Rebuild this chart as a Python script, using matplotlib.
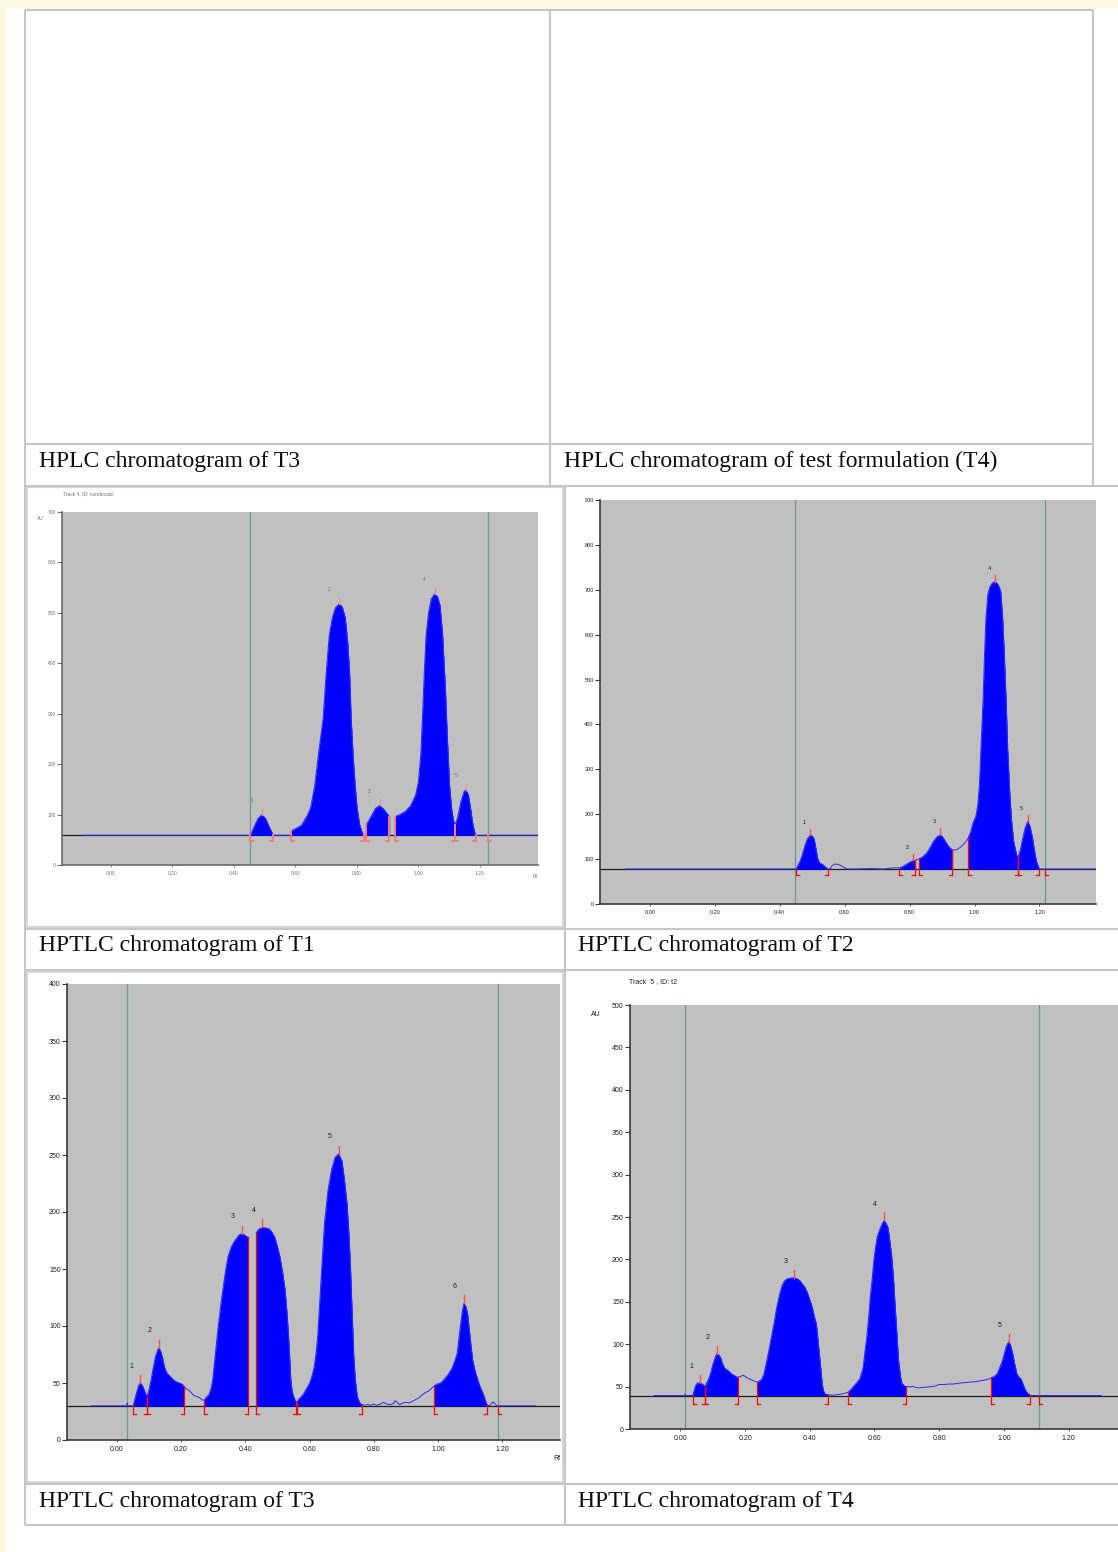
import numpy as np
import matplotlib
matplotlib.use("Agg")
import matplotlib.pyplot as plt
from matplotlib.patches import Rectangle
from matplotlib.ticker import FormatStrFormatter

W, H = 1118, 1552
nan = float("nan")

CAPTIONS = [
    ("HPLC chromatogram of T3", 39, 444),
    ("HPLC chromatogram of test formulation (T4)", 564, 444),
    ("HPTLC chromatogram of T1", 39, 929),
    ("HPTLC chromatogram of T2", 578, 929),
    ("HPTLC chromatogram of T3", 39, 1484),
    ("HPTLC chromatogram of T4", 578, 1484),
]

RF_TICKS = [0.0, 0.2, 0.4, 0.6, 0.8, 1.0, 1.2]

# densitometric scans, (Rf, AU)
T1_TRACE = [(-0.09, 59), (0.454, 59), (0.465, 75), (0.478, 92), (0.491, 100), (0.503, 92),
            (0.515, 75), (0.528, 59), (0.585, 59), (0.587, 68), (0.600, 72), (0.620, 79),
            (0.640, 100), (0.650, 115), (0.663, 158), (0.675, 220), (0.690, 290), (0.700, 380),
            (0.710, 455), (0.720, 490), (0.730, 510), (0.742, 518), (0.752, 512), (0.762, 490),
            (0.770, 440), (0.776, 380), (0.781, 290), (0.788, 210), (0.794, 158), (0.800, 115),
            (0.809, 79), (0.818, 63), (0.824, 59), (0.829, 59), (0.831, 80), (0.845, 95),
            (0.860, 112), (0.874, 118), (0.888, 110), (0.900, 100), (0.906, 96), (0.915, nan),
            (0.924, 96), (0.940, 100), (0.957, 106), (0.975, 118), (0.991, 139), (1.000, 165),
            (1.008, 220), (1.013, 290), (1.019, 380), (1.025, 455), (1.033, 500), (1.042, 528),
            (1.053, 538), (1.062, 532), (1.070, 515), (1.078, 460), (1.087, 356), (1.094, 250),
            (1.101, 158), (1.108, 110), (1.114, 88), (1.120, 79), (1.128, 95), (1.138, 125),
            (1.148, 145), (1.154, 149), (1.162, 140), (1.170, 110), (1.177, 80), (1.183, 65),
            (1.187, 59), (1.389, 59)]
T1_BASE = 59
T1_ZONES = [(0.454, 0.528), (0.587, 0.824), (0.831, 0.906), (0.924, 1.120), (1.120, 1.187)]
T1_PEAKS = [0.491, 0.742, 0.874, 1.053, 1.154]
T1_FRONTS = [0.454, 1.227]

T2_TRACE = [(-0.076, 78), (0.451, 78), (0.455, 84), (0.462, 94), (0.470, 110), (0.478, 131),
            (0.486, 146), (0.494, 153), (0.500, 152), (0.506, 145), (0.511, 125), (0.516, 104),
            (0.522, 92), (0.532, 88), (0.540, 83), (0.548, 78), (0.556, 79), (0.562, 86),
            (0.570, 89), (0.580, 88), (0.588, 86), (0.597, 82), (0.608, 78), (0.640, 78),
            (0.680, 79), (0.720, 78), (0.745, 80), (0.760, 81), (0.769, 80), (0.785, 86),
            (0.798, 92), (0.812, 97), (0.818, 97), (0.823, 99), (0.828, 100), (0.840, 105),
            (0.852, 113), (0.862, 124), (0.874, 140), (0.885, 150), (0.895, 154), (0.903, 148),
            (0.912, 137), (0.922, 127), (0.932, 120), (0.945, 121), (0.958, 127), (0.970, 136),
            (0.979, 145), (0.988, 160), (0.995, 180), (1.004, 195), (1.010, 220), (1.015, 265),
            (1.020, 350), (1.026, 450), (1.031, 560), (1.035, 636), (1.041, 690), (1.048, 708),
            (1.056, 716), (1.064, 718), (1.072, 712), (1.080, 698), (1.086, 640), (1.091, 562),
            (1.097, 450), (1.102, 340), (1.108, 250), (1.113, 191), (1.120, 140), (1.129, 110),
            (1.134, 104), (1.141, 120), (1.148, 145), (1.156, 170), (1.164, 184), (1.171, 172),
            (1.178, 148), (1.184, 120), (1.190, 96), (1.196, 84), (1.200, 78), (1.374, 78)]
T2_BASE = 78
T2_ZONES = [(0.451, 0.548), (0.769, 0.818), (0.828, 0.932), (0.979, 1.134), (1.134, 1.200)]
T2_PEAKS = [0.494, 0.812, 0.895, 1.064, 1.164]
T2_FRONTS = [0.448, 1.218]

T3_TRACE = [(-0.080, 30), (0.030, 30), (0.032, 32.5), (0.035, 30), (0.051, 30), (0.056, 36),
            (0.062, 42), (0.068, 48), (0.073, 50), (0.079, 48), (0.085, 44), (0.090, 40),
            (0.095, 39), (0.100, 44), (0.106, 52), (0.113, 63), (0.120, 73), (0.127, 79),
            (0.131, 81), (0.136, 78), (0.142, 72), (0.148, 64), (0.155, 59), (0.165, 56),
            (0.175, 53), (0.185, 51), (0.195, 50), (0.203, 49), (0.209, 47), (0.215, 45),
            (0.222, 44), (0.230, 42), (0.240, 39), (0.250, 38), (0.258, 37), (0.266, 35),
            (0.271, 35), (0.280, 38), (0.287, 40), (0.293, 45), (0.298, 52), (0.303, 66),
            (0.309, 82), (0.314, 96), (0.319, 108), (0.325, 122), (0.330, 132), (0.338, 148),
            (0.346, 161), (0.352, 166), (0.357, 170), (0.365, 174), (0.373, 177), (0.381, 180),
            (0.389, 181), (0.397, 180), (0.403, 178.5), (0.408, 178), (0.421, nan), (0.434, 182),
            (0.442, 185), (0.453, 186.5), (0.464, 186), (0.475, 185), (0.483, 182), (0.491, 178),
            (0.499, 170), (0.507, 161), (0.515, 148), (0.523, 132), (0.529, 112), (0.534, 91),
            (0.538, 70), (0.541, 53), (0.545, 43), (0.550, 38), (0.557, 33.5), (0.560, 33.5),
            (0.570, 37), (0.580, 40), (0.590, 45), (0.600, 50), (0.607, 56), (0.614, 64),
            (0.620, 76), (0.625, 91), (0.630, 115), (0.636, 143), (0.646, 190), (0.657, 219),
            (0.668, 237), (0.679, 248), (0.690, 251), (0.700, 245), (0.708, 228), (0.716, 207),
            (0.722, 180), (0.727, 149), (0.732, 110), (0.737, 73), (0.742, 52), (0.748, 38),
            (0.755, 33), (0.762, 31), (0.770, 30.5), (0.780, 31), (0.790, 30.5), (0.800, 31.5),
            (0.810, 30.5), (0.820, 31.5), (0.830, 33), (0.840, 31.5), (0.850, 31), (0.860, 32),
            (0.866, 34.5), (0.872, 33), (0.880, 31), (0.890, 32.5), (0.900, 33), (0.910, 32.5),
            (0.920, 34), (0.930, 35.5), (0.940, 37), (0.950, 39.5), (0.960, 41.5), (0.970, 43),
            (0.980, 45.5), (0.988, 47.5), (0.995, 49), (1.005, 49.7), (1.013, 51.5), (1.021, 54),
            (1.032, 58), (1.043, 63), (1.051, 69), (1.059, 76), (1.064, 88), (1.070, 102),
            (1.075, 113), (1.080, 120), (1.086, 117), (1.091, 111), (1.097, 95), (1.102, 82),
            (1.107, 70), (1.115, 60), (1.123, 52.6), (1.131, 46), (1.139, 41), (1.146, 35),
            (1.152, 30.7), (1.160, 30), (1.166, 32), (1.171, 33.5), (1.176, 32), (1.182, 30),
            (1.303, 30)]
T3_BASE = 30
T3_ZONES = [(0.051, 0.095), (0.095, 0.209), (0.271, 0.408), (0.434, 0.557), (0.560, 0.762),
            (0.988, 1.152)]
T3_PEAKS = [0.073, 0.131, 0.389, 0.453, 0.690, 1.080]
T3_FRONTS = [0.032, 1.185]

T4_TRACE = [(-0.082, 39.5), (0.012, 39.5), (0.014, 41), (0.017, 39.5), (0.038, 39.5), (0.042, 45),
            (0.047, 51.5), (0.052, 54), (0.061, 54.5), (0.068, 53), (0.076, 50), (0.082, 55),
            (0.088, 60), (0.094, 67), (0.100, 76), (0.106, 83), (0.112, 89), (0.117, 88),
            (0.123, 85), (0.129, 78), (0.136, 72), (0.143, 70), (0.150, 68), (0.158, 65),
            (0.167, 63), (0.175, 61), (0.178, 61), (0.186, 62), (0.194, 63.5), (0.200, 62),
            (0.208, 60), (0.216, 58.5), (0.225, 57), (0.232, 56), (0.238, 55), (0.245, 57),
            (0.252, 59), (0.258, 65), (0.265, 77), (0.273, 92), (0.281, 108), (0.290, 126),
            (0.298, 144), (0.306, 158), (0.314, 169), (0.322, 175), (0.330, 177), (0.340, 178),
            (0.352, 178.5), (0.362, 177), (0.369, 175), (0.377, 171), (0.385, 167), (0.393, 160),
            (0.400, 152), (0.407, 144), (0.414, 132), (0.420, 124), (0.425, 105), (0.429, 89),
            (0.434, 70), (0.438, 53), (0.442, 45), (0.448, 41), (0.456, 40.5), (0.465, 40),
            (0.475, 40), (0.485, 40.5), (0.494, 41), (0.505, 42), (0.516, 43), (0.519, 43.5),
            (0.528, 47), (0.538, 51.5), (0.546, 55), (0.554, 59), (0.560, 66), (0.565, 73),
            (0.570, 90), (0.576, 108), (0.582, 132), (0.587, 156), (0.593, 178), (0.598, 199),
            (0.603, 214), (0.608, 226), (0.614, 233), (0.619, 238), (0.625, 243), (0.630, 246),
            (0.636, 242), (0.641, 238), (0.646, 225), (0.652, 207), (0.658, 180), (0.663, 148),
            (0.669, 112), (0.674, 81), (0.680, 62), (0.685, 53.5), (0.692, 51), (0.696, 50),
            (0.705, 50), (0.712, 49.5), (0.718, 50.5), (0.726, 49), (0.734, 48.5), (0.750, 49),
            (0.765, 49.5), (0.778, 50), (0.790, 51), (0.800, 52.5), (0.815, 52.5), (0.830, 53),
            (0.843, 53), (0.860, 54), (0.875, 54.5), (0.887, 55), (0.900, 55.5), (0.915, 56),
            (0.930, 57), (0.945, 58), (0.958, 59.5), (0.961, 60.5), (0.970, 62), (0.979, 65),
            (0.987, 72), (0.996, 81), (1.002, 90), (1.007, 97), (1.012, 101), (1.016, 103),
            (1.021, 98), (1.027, 89), (1.033, 77), (1.040, 65), (1.047, 61), (1.053, 59),
            (1.058, 54), (1.062, 50), (1.068, 45), (1.075, 41.5), (1.081, 40), (1.088, 39.5),
            (1.301, 39.5)]
T4_BASE = 39.5
T4_ZONES = [(0.038, 0.076), (0.076, 0.178), (0.238, 0.456), (0.519, 0.696), (0.961, 1.081)]
T4_PEAKS = [0.061, 0.112, 0.352, 0.630, 1.016]
T4_FRONTS = [0.014, 1.108]

fig = plt.figure(figsize=(W / 100, H / 100), dpi=100)
fig.patch.set_facecolor("white")


def px_box(x0, y0, x1, y1):
    return [x0 / W, 1 - y1 / H, (x1 - x0) / W, (y1 - y0) / H]


# page: table grid and captions in pixel coordinates
page = fig.add_axes([0, 0, 1, 1])
page.set_xlim(0, W)
page.set_ylim(H, 0)
page.axis("off")
page.add_patch(Rectangle((0, 0), W, 9, color="#fff9e3", lw=0))
page.add_patch(Rectangle((0, 0), 6, H, color="#fff9e3", lw=0))

grid = "#c6c6c6"
hlines = [(10, 25, 1093), (443.5, 25, 1093), (485.5, 25, W), (928.5, 25, W),
          (970, 25, W), (1483.5, 25, W), (1525, 25, W)]
vlines = [(25, 10, 1525), (550, 10, 485.5), (1093, 10, 485.5), (565, 485.5, 1525)]
for y, x0, x1 in hlines:
    page.plot([x0, x1], [y, y], color=grid, lw=1.5, solid_capstyle="butt")
for x, y0, y1 in vlines:
    page.plot([x, x], [y0, y1], color=grid, lw=1.5, solid_capstyle="butt")

for text, x, top in CAPTIONS:
    page.text(x, top + 22.5, text, family="Liberation Serif", fontsize=17,
              color="#0d0d0d", ha="left", va="baseline")

# light frames round the pasted scan images
page.add_patch(Rectangle((27, 487), 536, 440, fill=False, ec="#d6d6d6", lw=1.5))
page.add_patch(Rectangle((27, 972), 536, 510, fill=False, ec="#d6d6d6", lw=1.5))


def chromatogram(box, xlim, ymax, ystep, trace, base, zones, peaks, fronts,
                 fs=5.0, tcol="#1e1e1e", spine="#3a3a3a", red="#ff0000",
                 peak_red="#ff5050", tick_px=8, drop_px=8, lab_off=(-9, 17), blur=False):
    ax = fig.add_axes(px_box(*box))
    ax.set_facecolor("#c0c0c0")
    ax.set_xlim(*xlim)
    ax.set_ylim(0, ymax)
    for s in ("top", "right"):
        ax.spines[s].set_visible(False)
    for s in ("left", "bottom"):
        ax.spines[s].set_color(spine)
        ax.spines[s].set_linewidth(1.2)
    ax.set_yticks(np.arange(0, ymax + 1, ystep))
    ax.set_xticks(RF_TICKS)
    ax.xaxis.set_major_formatter(FormatStrFormatter("%.2f"))
    ax.tick_params(axis="y", length=3.5, width=0.8, color=spine, labelsize=fs,
                   labelcolor=tcol, pad=1)
    ax.tick_params(axis="x", length=1.5, width=0.6, color=spine, labelsize=fs,
                   labelcolor=tcol, pad=3)
    for lab in ax.get_xticklabels() + ax.get_yticklabels():
        lab.set_family("Liberation Sans")

    rf = np.array([p[0] for p in trace])
    au = np.array([p[1] for p in trace])
    dx = (xlim[1] - xlim[0]) / (box[2] - box[0])
    dy = ymax / (box[3] - box[1])

    def at(x):
        return au[np.argmin(np.abs(rf - x))]

    for f in fronts:
        ax.axvline(f, color="#6e9494", lw=0.9, zorder=1)
    ax.axhline(base, color="#202020", lw=0.9, zorder=2)
    for s, e in zones:
        m = (rf >= s - 1e-9) & (rf <= e + 1e-9)
        ax.fill_between(rf[m], au[m], base, color="#0000ff", lw=0.3, ec="#0000ff", zorder=3)
    ax.plot(rf, au, color="#2a2aff", lw=0.7, zorder=4)

    # integration limits: "[" at zone start, "]" at zone end
    bot = base - drop_px * dy
    lw = 1.4 if blur else 0.9
    marks = [(s, 1) for s, _ in zones] + [(e, -1) for _, e in zones] + [(fronts[-1], 1)]
    for x, side in marks:
        top = at(x) if x != fronts[-1] else base
        ax.plot([x, x], [top, bot], color=red, lw=lw, zorder=5)
        ax.plot([x, x + side * 3 * dx], [bot, bot], color=red, lw=lw, zorder=5)

    # peak maxima with their numbers
    for i, p in enumerate(peaks, 1):
        top = at(p)
        ax.plot([p, p], [top, top + tick_px * dy], color=peak_red, lw=1.0, zorder=5)
        ax.annotate(str(i), (p, top), xytext=lab_off, textcoords="offset pixels",
                    fontsize=fs, family="Liberation Sans", color=tcol,
                    ha="center", va="center", zorder=6)
    return ax


# T1 scan (low resolution copy)
chromatogram((62, 512, 538, 865), (-0.159, 1.389), 700, 100, T1_TRACE, T1_BASE,
             T1_ZONES, T1_PEAKS, T1_FRONTS, fs=3.5, tcol="#707070", spine="#6a6a6a",
             red="#f08080", peak_red="#f09090", tick_px=6, drop_px=6, lab_off=(-10, 14),
             blur=True)
page.text(63, 494, "Track 4, ID: nondocaid", fontsize=3.5, color="#707070",
          family="Liberation Sans", va="center")
page.text(40, 518, "AU", fontsize=3.5, color="#707070", family="Liberation Sans",
          va="center", ha="center")
page.text(535, 877, "Rf", fontsize=3.5, color="#707070", family="Liberation Sans",
          va="center", ha="center")

# T2 scan
chromatogram((600, 500, 1096, 904), (-0.153, 1.374), 900, 100, T2_TRACE, T2_BASE,
             T2_ZONES, T2_PEAKS, T2_FRONTS, fs=4.0, tick_px=6.5, drop_px=6.5,
             lab_off=(-6, 13))

# T3 scan
chromatogram((67, 984, 560, 1440), (-0.155, 1.379), 400, 50, T3_TRACE, T3_BASE,
             T3_ZONES, T3_PEAKS, T3_FRONTS, fs=5.0, tick_px=8, drop_px=8.5,
             lab_off=(-9, 17))
page.text(557, 1458, "Rf", fontsize=5, color="#1e1e1e", family="Liberation Sans",
          va="center", ha="center")

# T4 scan
chromatogram((630, 1005, 1118, 1429), (-0.156, 1.353), 500, 50, T4_TRACE, T4_BASE,
             T4_ZONES, T4_PEAKS, T4_FRONTS, fs=5.0, tick_px=8, drop_px=8,
             lab_off=(-9, 16))
page.text(629, 982, "Track  5 , ID: t2", fontsize=5, color="#1e1e1e",
          family="Liberation Sans", va="center", ha="left")
page.text(596, 1014, "AU", fontsize=5, color="#1e1e1e", family="Liberation Sans",
          va="center", ha="center")

fig.savefig("out.png", dpi=100, facecolor=fig.get_facecolor())
